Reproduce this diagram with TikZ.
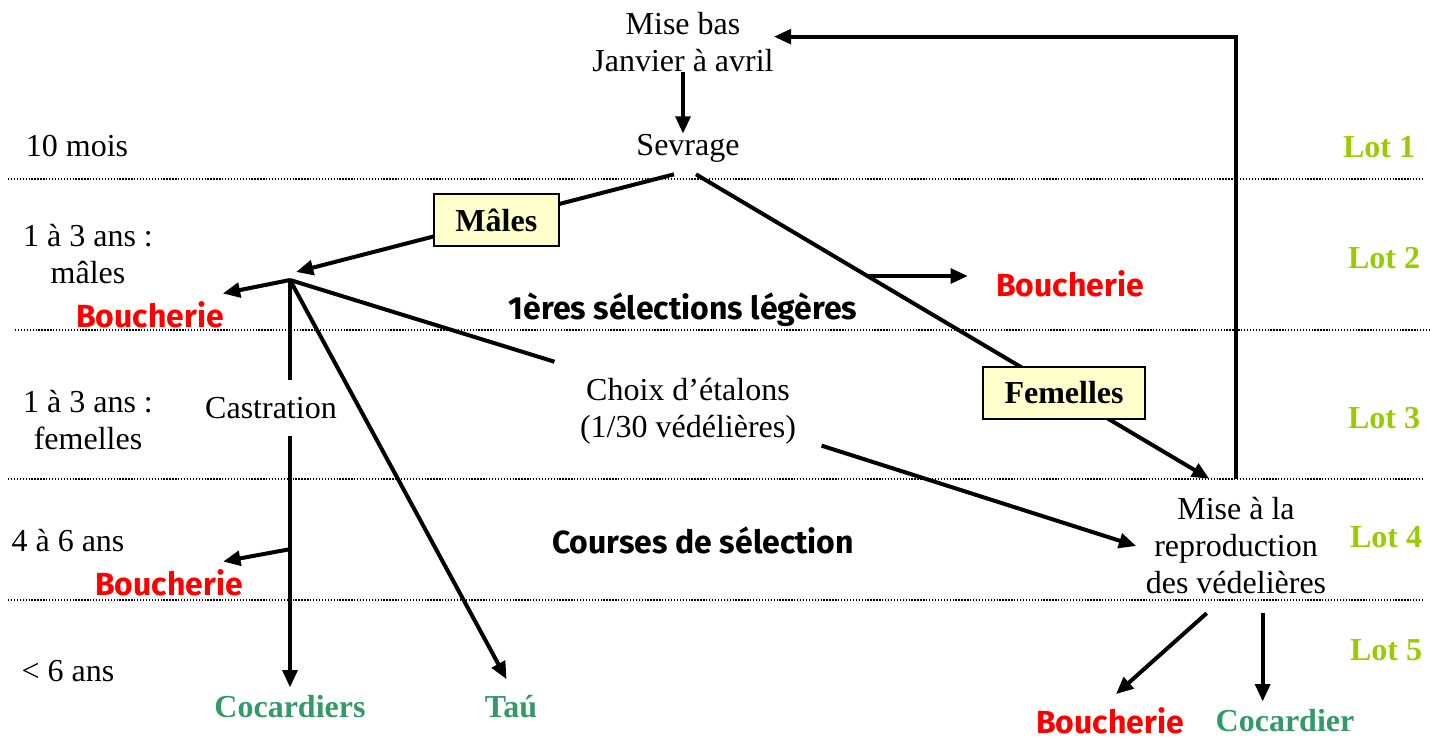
\documentclass[tikz,border=0pt]{standalone}
\usepackage{fontspec}
\setmainfont{Liberation Serif}
\newfontfamily\comicfont{Fira Sans}
\usepackage{tikz}
\usetikzlibrary{arrows.meta}

\definecolor{lotgreen}{HTML}{99CC00}
\definecolor{cocgreen}{HTML}{339966}
\definecolor{boxyellow}{HTML}{FFFFCC}

\tikzset{
	txt/.style={inner sep=0pt, align=center, font=\fontsize{24}{27.75}\selectfont},
	lot/.style={inner sep=0pt, text=lotgreen, font=\fontsize{24}{27.75}\selectfont\bfseries},
	cocard/.style={inner sep=6pt, text=cocgreen, font=\fontsize{24}{27.75}\selectfont\bfseries},
	bouch/.style={inner sep=6pt, text=red, font=\fontsize{24}{27.75}\comicfont\bfseries},
	comic/.style={inner sep=0pt, font=\fontsize{24}{27.75}\comicfont\bfseries},
	sexbox/.style={draw=black, line width=1.5pt, fill=boxyellow, inner xsep=16pt, minimum height=39pt,
		font=\fontsize{24}{27.75}\selectfont\bfseries},
	link/.style={line width=3pt},
	arr/.style={line width=3pt, -{Triangle[length=13pt,width=11pt]}},
	sepline/.style={line width=1pt, dash pattern=on 1pt off 1.2pt},
}

\begin{document}
\begin{tikzpicture}[x=0.75pt, y=-0.75pt]
	\useasboundingbox (0,0) rectangle (1438,740);

	% dotted separators
	\foreach \xa/\yy/\xb in {8/179/1422, 15/330/1430, 8/479/1422, 8/600/1422}
		\draw[sepline] (\xa,\yy) -- (\xb,\yy);

	% lots
	\foreach \i/\xx/\yy in {1/1379/147, 2/1384/258, 3/1384/418, 4/1386/537, 5/1386/650}
		\node[lot] (lot\i) at (\xx,\yy) {Lot \i};

	% ages
	\node[txt] (age1) at (77,146) {10 mois};
	\node[txt] (age2) at (88,254) {1 à 3 ans :\\mâles};
	\node[txt] (age3) at (88,420) {1 à 3 ans :\\femelles};
	\node[txt] (age4) at (68,541) {4 à 6 ans};
	\node[txt] (age5) at (68,671) {< 6 ans};

	% main steps
	\node[txt] (misebas) at (683,42) {Mise bas\\Janvier à avril};
	\node[txt] (sevrage) at (688,148) {Sevrage};
	\coordinate (hub) at (290,280);
	\node[txt, inner ysep=12.75pt] (castration) at (271,408) {Castration};
	\node[txt, inner xsep=19pt, inner ysep=3pt] (choix) at (688,411) {Choix d’étalons\\(1/30 védélières)};
	\node[txt, inner xsep=7pt, inner ysep=14pt] (repro) at (1236,546) {Mise à la\\reproduction\\des védelières};

	% outcomes
	\node[bouch] (bouch1) at (150,315) {Boucherie};
	\node[bouch] (bouch2) at (169,583) {Boucherie};
	\node[bouch] (bouch3) at (1070,284) {Boucherie};
	\node[bouch] (bouch4) at (1110,721) {Boucherie};
	\node[cocard] (cocardiers) at (290,707) {Cocardiers};
	\node[cocard] (tau) at (511,707) {Taú};
	\node[cocard] (cocardier) at (1285,721) {Cocardier};
	\node[comic] (legeres) at (683,310) {1ères sélections légères};
	\node[comic] (courses) at (703,540) {Courses de sélection};

	% arrows
	\draw[arr] (misebas.south) -- (misebas.south |- sevrage.north);
	\draw[arr] (repro.north) |- ([yshift=4pt]misebas.east);
	\draw[arr] ([xshift=-10.5pt,yshift=-9pt]sevrage.south) -- node[sexbox, pos=0.47] (males) {Mâles} ([shift={(6,-8)}]hub);
	\draw[arr] ([xshift=6pt,yshift=-9pt]sevrage.south) -- coordinate[pos=0.334] (br2) node[sexbox, pos=0.717] (femelles) {Femelles} ([xshift=-20pt]repro.north);
	\draw[arr, shorten >=15pt] (br2) -- (br2 -| bouch3.west);

	\draw[arr] (hub) -- ([xshift=-7pt]bouch1.north east);
	\draw[link] (hub) -- (hub |- castration.north);
	\draw[arr] (castration.south -| hub) -- coordinate[pos=0.45] (br1) (hub |- cocardiers.north);
	\draw[arr] (br1) -- ([xshift=-21pt]bouch2.north east);
	\draw[arr, shorten >=7pt] (hub) -- (tau.north);
	\draw[link] (hub) -- ([yshift=9pt]choix.north west);
	\draw[arr] ([yshift=2pt]choix.south east) -- (repro.west);

	\draw[arr, shorten >=6pt] ([xshift=-22pt]repro.south) -- (bouch4.north);
	\draw[arr] ([xshift=20pt]repro.south) -- ([xshift=20pt]repro.south |- cocardier.north);

\end{tikzpicture}
\end{document}
